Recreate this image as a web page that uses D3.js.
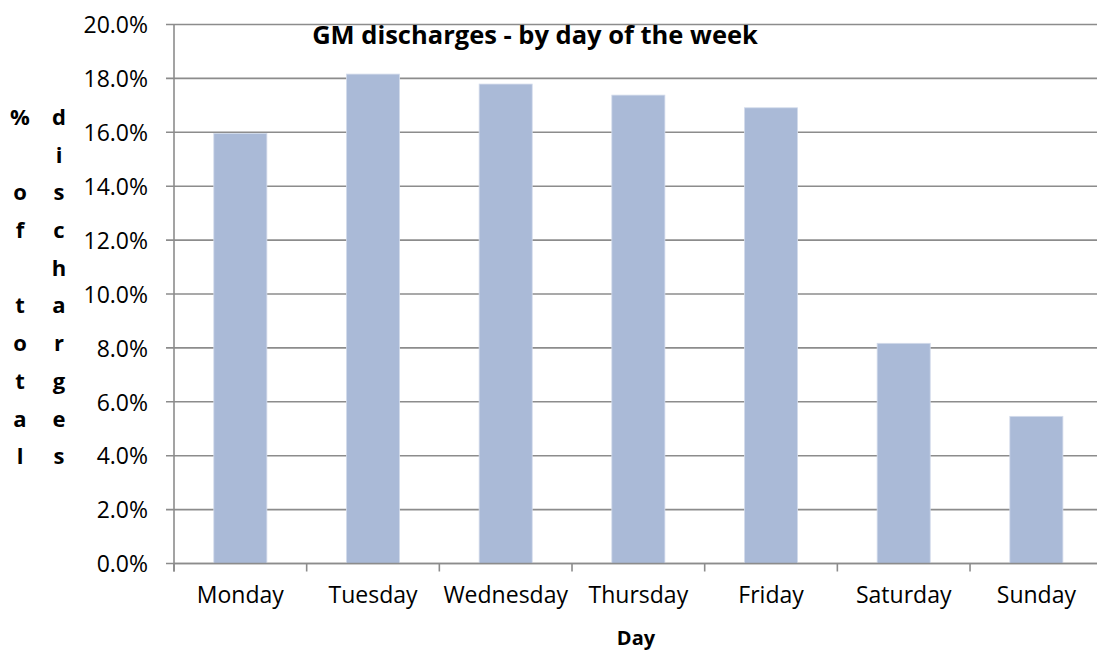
<!DOCTYPE html>
<meta charset="utf-8">
<script src="https://d3js.org/d3.v7.min.js"></script>
<style>
body { margin: 0; background: #fff; }
svg { display: block; }
text { font-family: "Open Sans", Lato, sans-serif; fill: #000; }
</style>
<body>
<div id="chart"></div>
<script>
// data
var days = ['Monday', 'Tuesday', 'Wednesday', 'Thursday', 'Friday', 'Saturday', 'Sunday'];
var shares = [15.96, 18.16, 17.79, 17.38, 16.91, 8.17, 5.46];
var yTicks = [0, 2, 4, 6, 8, 10, 12, 14, 16, 18, 20];
var titleCol1 = ['%', '', 'o', 'f', '', 't', 'o', 't', 'a', 'l'];
var titleCol2 = ['d', 'i', 's', 'c', 'h', 'a', 'r', 'g', 'e', 's'];

var W = 1097, H = 650;
var plot = {left: 174, right: 1102.7, top: 24.5, bottom: 563.5};

var svg = d3.select('#chart')
    .append('svg')
    .attr('width', W)
    .attr('height', H);

var x = d3.scaleBand()
    .domain(days)
    .range([plot.left, plot.right])
    .paddingInner(0)
    .paddingOuter(0);

var y = d3.scaleLinear()
    .domain([0, 20])
    .range([plot.bottom, plot.top]);

// horizontal gridlines
svg.append('g')
    .selectAll('line')
    .data(yTicks)
    .enter()
    .append('line')
    .attr('x1', plot.left - 8)
    .attr('x2', plot.right)
    .attr('y1', function(d) { return y(d); })
    .attr('y2', function(d) { return y(d); })
    .attr('stroke', '#8c8c8c')
    .attr('stroke-width', 1.6);

// bars (40% of band, centred)
var barW = x.bandwidth() * 0.4;
svg.append('g')
    .selectAll('rect')
    .data(days)
    .enter()
    .append('rect')
    .attr('x', function(d) { return x(d) + (x.bandwidth() - barW) / 2; })
    .attr('width', barW)
    .attr('y', function(d, i) { return y(shares[i]); })
    .attr('height', function(d, i) { return y(0) - y(shares[i]); })
    .attr('fill', '#aabad7')
    .attr('stroke', '#d3dbeb')
    .attr('stroke-width', 0.8);

// y axis
var yaxis = d3.axisLeft(y)
    .tickValues(yTicks)
    .tickSize(0)
    .tickPadding(26)
    .tickFormat(function(d) { return d.toFixed(1) + '%'; });

var gy = svg.append('g')
    .attr('transform', 'translate(' + plot.left + ',0)')
    .call(yaxis);
gy.select('.domain').remove();
gy.selectAll('text')
    .style('font-size', '23px')
    .attr('dy', '0.36em');

svg.append('line')
    .attr('x1', plot.left).attr('x2', plot.left)
    .attr('y1', plot.top).attr('y2', plot.bottom + 8)
    .attr('stroke', '#8c8c8c')
    .attr('stroke-width', 1.6);

// x axis
var xaxis = d3.axisBottom(x)
    .tickSize(0);

var gx = svg.append('g')
    .attr('transform', 'translate(0,' + plot.bottom + ')')
    .call(xaxis);
gx.select('.domain').remove();
gx.selectAll('text')
    .attr('y', 39)
    .attr('dy', 0)
    .style('font-size', '23px');

// category separator ticks
svg.append('g')
    .selectAll('line')
    .data(days)
    .enter()
    .append('line')
    .attr('x1', function(d) { return x(d); })
    .attr('x2', function(d) { return x(d); })
    .attr('y1', plot.bottom)
    .attr('y2', plot.bottom + 8)
    .attr('stroke', '#8c8c8c')
    .attr('stroke-width', 1.6);

svg.append('line')
    .attr('x1', plot.left).attr('x2', plot.right)
    .attr('y1', plot.bottom).attr('y2', plot.bottom)
    .attr('stroke', '#8c8c8c')
    .attr('stroke-width', 1.6);

// chart title
svg.append('text')
    .text('GM discharges - by day of the week')
    .attr('x', 535)
    .attr('y', 44)
    .attr('text-anchor', 'middle')
    .style('font-size', '25.5px')
    .style('font-weight', 'bold');

// x axis title
svg.append('text')
    .text('Day')
    .attr('x', 636)
    .attr('y', 645)
    .attr('text-anchor', 'middle')
    .style('font-size', '20px')
    .style('font-weight', 'bold');

// stacked y axis title
var rowStep = 37.7, rowTop = 117;
[titleCol1, titleCol2].forEach(function(col, c) {
    svg.append('g')
        .selectAll('text')
        .data(col)
        .enter()
        .append('text')
        .text(function(d) { return d; })
        .attr('x', c === 0 ? 20 : 59)
        .attr('y', function(d, i) { return rowTop + i * rowStep; })
        .attr('dy', '0.36em')
        .attr('text-anchor', 'middle')
        .style('font-size', '22px')
        .style('font-weight', 'bold');
});
</script>
</body>
